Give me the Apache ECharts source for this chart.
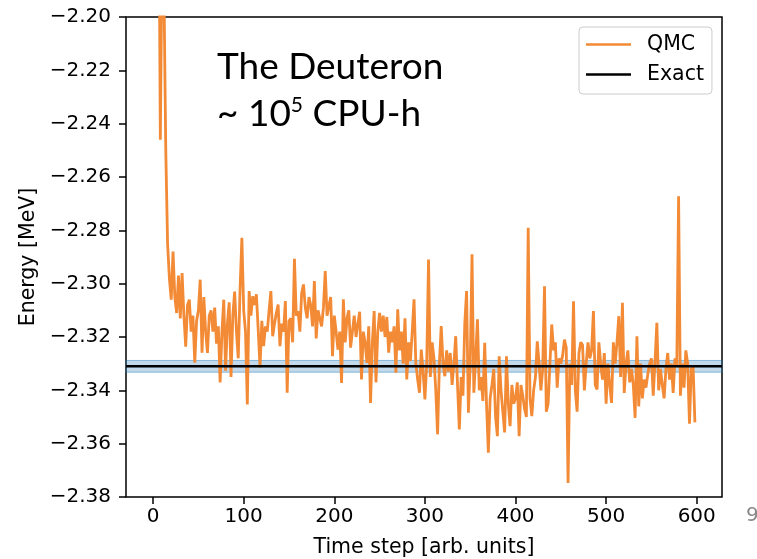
<!DOCTYPE html>
<html><head><meta charset="utf-8">
<script src="https://cdn.jsdelivr.net/npm/echarts@6/dist/echarts.min.js"></script>
<style>html,body{margin:0;padding:0;background:#fff}#c{width:757px;height:559px}</style>
</head><body><div id="c"></div>
<script>
// QMC energy, one value every 2 time steps (t = 0, 2, ..., 598)
const timeStepSpacing = 2;
const qmcEnergy = [
-2.05,-2.08,-2.10,-2.13,-2.246,-2.17,-2.19,-2.25,-2.285,-2.298,
-2.306,-2.288,-2.305,-2.311,-2.297,-2.313,-2.296,-2.312,-2.3236,-2.308,
-2.306,-2.318,-2.312,-2.3296,-2.314,-2.310,-2.2985,-2.3259,-2.305,-2.318,
-2.326,-2.312,-2.31,-2.318,-2.309,-2.3225,-2.316,-2.337,-2.318,-2.306,
-2.3326,-2.315,-2.307,-2.335,-2.312,-2.303,-2.318,-2.328,-2.302,-2.2828,
-2.31,-2.318,-2.3453,-2.3028,-2.312,-2.3047,-2.308,-2.304,-2.3172,-2.3314,
-2.3139,-2.3234,-2.316,-2.318,-2.31,-2.3028,-2.3197,-2.315,-2.311,-2.3078,
-2.3234,-2.315,-2.318,-2.3065,-2.3409,-2.314,-2.313,-2.322,-2.2907,-2.312,
-2.3104,-2.318,-2.3035,-2.3003,-2.309,-2.313,-2.305,-2.308,-2.316,-2.299,
-2.3205,-2.31,-2.313,-2.316,-2.309,-2.2953,-2.312,-2.3084,-2.305,-2.3272,
-2.312,-2.318,-2.3247,-2.318,-2.3372,-2.3059,-2.322,-2.313,-2.31,-2.324,
-2.318,-2.312,-2.32,-2.315,-2.3105,-2.3359,-2.318,-2.322,-2.3297,-2.316,
-2.3447,-2.322,-2.3103,-2.337,-2.318,-2.311,-2.318,-2.312,-2.32,-2.3125,
-2.3259,-2.318,-2.322,-2.316,-2.3334,-2.3096,-2.325,-2.318,-2.33,-2.313,
-2.3359,-2.322,-2.329,-2.318,-2.3059,-2.33,-2.336,-2.3409,-2.3247,-2.333,
-2.3434,-2.33,-2.2909,-2.335,-2.322,-2.328,-2.34,-2.3565,-2.33,-2.3159,
-2.33,-2.3347,-2.325,-2.333,-2.326,-2.338,-2.33,-2.3197,-2.338,-2.3547,
-2.335,-2.342,-2.315,-2.3028,-2.3484,-2.33,-2.289,-2.3409,-2.328,-2.3134,
-2.34,-2.335,-2.344,-2.3222,-2.345,-2.3634,-2.343,-2.338,-2.332,-2.35,
-2.3572,-2.3272,-2.34,-2.348,-2.3558,-2.3272,-2.345,-2.3534,-2.338,-2.345,
-2.343,-2.337,-2.3572,-2.338,-2.342,-2.347,-2.35,-2.279,-2.343,-2.3497,
-2.34,-2.335,-2.3216,-2.33,-2.34,-2.332,-2.301,-2.348,-2.345,-2.33,
-2.3153,-2.325,-2.322,-2.339,-2.328,-2.33,-2.327,-2.321,-2.324,-2.3747,
-2.33,-2.338,-2.3066,-2.34,-2.348,-2.326,-2.322,-2.323,-2.34,-2.33,
-2.322,-2.328,-2.325,-2.3103,-2.338,-2.3397,-2.322,-2.33,-2.336,-2.326,
-2.345,-2.33,-2.338,-2.3447,-2.322,-2.33,-2.322,-2.3122,-2.335,-2.3072,
-2.341,-2.33,-2.325,-2.337,-2.332,-2.338,-2.3503,-2.3197,-2.346,-2.33,
-2.343,-2.336,-2.339,-2.334,-2.33,-2.328,-2.342,-2.329,-2.3147,-2.34,
-2.332,-2.338,-2.343,-2.332,-2.326,-2.336,-2.33,-2.341,-2.328,-2.331,
-2.2672,-2.342,-2.33,-2.339,-2.325,-2.33,-2.3525,-2.332,-2.331,-2.352
];
const exactEnergy = -2.331;
const exactBand = [-2.3288, -2.3332];
const xRange = [-29.9, 627.9];
const yRange = [-2.38, -2.20];
const xTickValues = [0, 100, 200, 300, 400, 500, 600];

const fmtY = v => (v < 0 ? '\u2212' : '') + Math.abs(v).toFixed(2);
const qmcData = qmcEnergy.map((v, i) => [i * timeStepSpacing, v]);
const exactData = [[xRange[0], exactEnergy], [xRange[1], exactEnergy]];

const chart = echarts.init(document.getElementById('c'), null, {renderer: 'canvas'});
const F = 'DejaVu Sans';
chart.setOption({
  animation: false,
  backgroundColor: '#fff',
  grid: {left: 126, right: 35, top: 17, bottom: 62, show: true, borderColor: '#000', borderWidth: 1.5, backgroundColor: 'transparent', containLabel: false, outerBoundsMode: 'none'},
  xAxis: {
    type: 'value', min: xRange[0], max: xRange[1],
    name: 'Time step [arb. units]', nameLocation: 'middle', nameGap: 40,
    nameTextStyle: {fontFamily: F, fontSize: 20.5, color: '#000'},
    axisLine: {show: false, onZero: false},
    axisTick: {show: true, length: 7, lineStyle: {color: '#000', width: 1.5}, customValues: xTickValues},
    axisLabel: {fontFamily: F, fontSize: 20, color: '#000', margin: 10, customValues: xTickValues},
    splitLine: {show: false}
  },
  yAxis: {
    type: 'value', min: yRange[0], max: yRange[1], interval: 0.02,
    name: 'Energy [MeV]', nameLocation: 'middle', nameGap: 83,
    nameTextStyle: {fontFamily: F, fontSize: 20.5, color: '#000'},
    axisLine: {show: false, onZero: false},
    axisTick: {show: true, length: 7, lineStyle: {color: '#000', width: 1.5}},
    axisLabel: {fontFamily: F, fontSize: 20, color: '#000', margin: 15, formatter: fmtY},
    splitLine: {show: false}
  },
  legend: {
    orient: 'vertical', left: 579, top: 27,
    data: [{name: 'QMC', icon: 'rect'}, {name: 'Exact', icon: 'rect'}],
    itemWidth: 45, itemHeight: 2.5, itemGap: 9,
    padding: [7, 8, 9, 7],
    borderColor: '#cccccc', borderWidth: 1, borderRadius: 4,
    backgroundColor: 'rgba(255,255,255,0.8)',
    textStyle: {fontFamily: F, fontSize: 20.5, color: '#000', padding: [0, 0, 0, 11], lineHeight: 20}
  },
  series: [
    {
      name: 'QMC', type: 'line', data: qmcData, showSymbol: false, symbol: 'none',
      lineStyle: {color: '#f28a36', width: 2.8}, itemStyle: {color: '#f28a36'}, z: 2, clip: true,
      markArea: {silent: true, itemStyle: {color: 'rgba(31,119,180,0.28)', borderColor: 'rgba(31,119,180,0.45)', borderWidth: 1},
        data: [[{yAxis: exactBand[0], xAxis: xRange[0]}, {yAxis: exactBand[1], xAxis: xRange[1]}]], z: 1}
    },
    {
      name: 'Exact', type: 'line', data: exactData, showSymbol: false, symbol: 'none',
      lineStyle: {color: '#000', width: 2.5}, itemStyle: {color: '#000'}, z: 3
    }
  ],
  graphic: [
    {type: 'text', left: 217, top: 49, z: 10, style: {text: 'The Deuteron', fontFamily: 'Lato', fontSize: 37, fill: '#000'}},
    {type: 'text', left: 217, top: 93, z: 10, style: {
      text: '{n|~ 10}{s|5}{n| CPU-h}', fill: '#000',
      rich: {n: {fontFamily: 'Lato', fontSize: 37, lineHeight: 40, verticalAlign: 'bottom'}, s: {fontFamily: 'Lato', fontSize: 21, lineHeight: 40, verticalAlign: 'top', padding: [2, 0, 0, 0]}}
    }},
    {type: 'text', left: 746, top: 506, z: 10, style: {text: '9', fontFamily: F, fontSize: 20, fill: '#888'}}
  ]
});
</script></body></html>
